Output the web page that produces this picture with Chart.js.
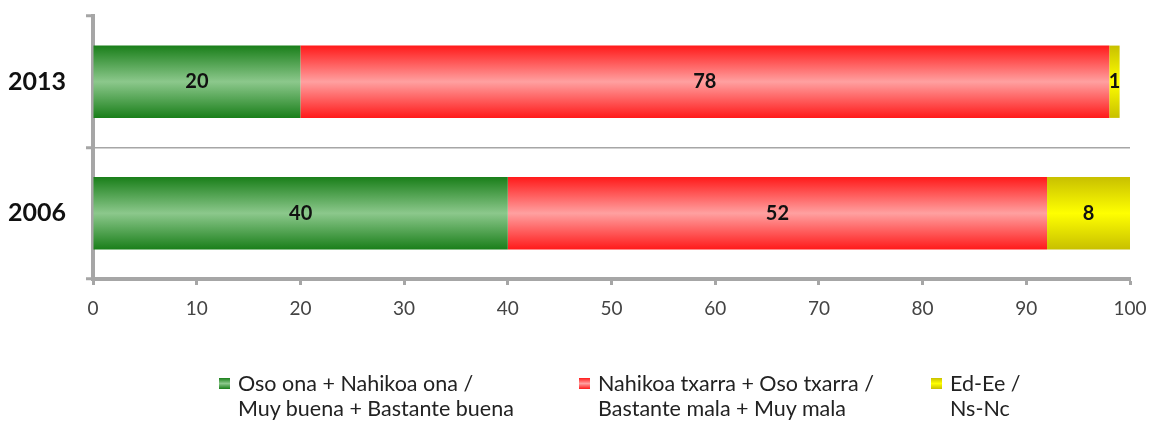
<!DOCTYPE html>
<html>
<head>
<meta charset="utf-8">
<script src="https://cdn.jsdelivr.net/npm/chart.js@4.4.1/dist/chart.umd.min.js"></script>
<style>
  html, body { margin: 0; padding: 0; background: #fff; }
  #wrap { position: relative; width: 1149px; height: 423px; }
  #chart { position: absolute; left: 0; top: 0; }
  .legend { position: absolute; top: 371px; font-family: Lato, "Open Sans", sans-serif; font-size: 21.5px; color: #222; line-height: 25px; white-space: nowrap; }
  .legend .box { position: absolute; left: -19px; top: 7px; width: 11px; height: 11px; }
</style>
</head>
<body>
<div id="wrap">
  <canvas id="chart" width="1149" height="423"></canvas>
  <div class="legend" style="left:238px"><span class="box" style="background:linear-gradient(#1a7f1a,#8cc88c,#1a7f1a)"></span>Oso ona + Nahikoa ona /<br>Muy buena + Bastante buena</div>
  <div class="legend" style="left:598px"><span class="box" style="background:linear-gradient(#ff1a1a,#ffa0a0,#ff1a1a)"></span>Nahikoa txarra + Oso txarra /<br>Bastante mala + Muy mala</div>
  <div class="legend" style="left:950px"><span class="box" style="background:linear-gradient(#c8c000,#ffff00,#c8c000)"></span>Ed-Ee /<br>Ns-Nc</div>
</div>
<script>
// survey waves, top to bottom
const years = ['2013', '2006'];
// share of answers per wave (%)
const good = [20, 40];
const bad = [78, 52];
const dkna = [1, 8];

const BAR_FRACTION = 0.55; // barPercentage * categoryPercentage
const FONT = 'Lato, "Open Sans", sans-serif';

// vertical "cylinder" fill: dark edges, light middle
function shaded(edge, mid) {
  return function (ctx) {
    const chart = ctx.chart;
    const y = chart.scales.y;
    const area = chart.chartArea;
    if (!y || !area || ctx.dataIndex == null) return mid;
    const cy = y.getPixelForValue(ctx.dataIndex);
    const h = (area.height / years.length) * BAR_FRACTION;
    const g = chart.ctx.createLinearGradient(0, cy - h / 2, 0, cy + h / 2);
    g.addColorStop(0, edge);
    g.addColorStop(0.5, mid);
    g.addColorStop(1, edge);
    return g;
  };
}

// value labels in the middle of every segment
const segmentLabels = {
  id: 'segmentLabels',
  afterDatasetsDraw(chart) {
    const c = chart.ctx;
    c.save();
    c.font = 'bold 20px ' + FONT;
    c.fillStyle = '#111';
    c.textAlign = 'center';
    c.textBaseline = 'middle';
    chart.data.datasets.forEach(function (ds, di) {
      chart.getDatasetMeta(di).data.forEach(function (bar, i) {
        const v = ds.data[i];
        if (!v) return;
        const x = (bar.x + bar.base) / 2;
        c.fillText(String(v), x, bar.y);
      });
    });
    c.restore();
  }
};

const axisGray = '#a6a6a6';

new Chart(document.getElementById('chart'), {
  type: 'bar',
  data: {
    labels: years,
    datasets: [
      { label: 'good', data: good, backgroundColor: shaded('#1a7f1a', '#8cc88c') },
      { label: 'bad', data: bad, backgroundColor: shaded('#ff1a1a', '#ffa0a0') },
      { label: 'dkna', data: dkna, backgroundColor: shaded('#c8c000', '#ffff00') }
    ]
  },
  options: {
    indexAxis: 'y',
    responsive: false,
    animation: false,
    barPercentage: 0.55,
    categoryPercentage: 1,
    layout: { padding: { left: 8, right: 19, top: 16, bottom: 102 } },
    scales: {
      x: {
        stacked: true, min: 0, max: 100,
        ticks: { stepSize: 10, color: '#444', padding: 12, font: { family: FONT, size: 19 } },
        grid: { drawOnChartArea: false, tickLength: 6, tickColor: axisGray, tickWidth: 3 },
        border: { color: axisGray, width: 4 },
        afterFit: function (s) { s.height = 42; s.paddingLeft = 0; s.paddingRight = 0; }
      },
      y: {
        stacked: true,
        ticks: { color: '#111', padding: 20, font: { family: FONT, size: 25, weight: 'bold' } },
        grid: {
          offset: true,
          tickLength: 7,
          tickColor: axisGray,
          tickWidth: 3,
          lineWidth: 1.5,
          color: function (ctx) { return (ctx.index > 0 && ctx.index < years.length) ? axisGray : 'rgba(0,0,0,0)'; }
        },
        border: { color: axisGray, width: 4 },
        afterFit: function (s) { s.width = 85; s.paddingTop = 0; s.paddingBottom = 0; }
      }
    },
    plugins: { legend: { display: false }, tooltip: { enabled: false } }
  },
  plugins: [segmentLabels]
});
</script>
</body>
</html>
